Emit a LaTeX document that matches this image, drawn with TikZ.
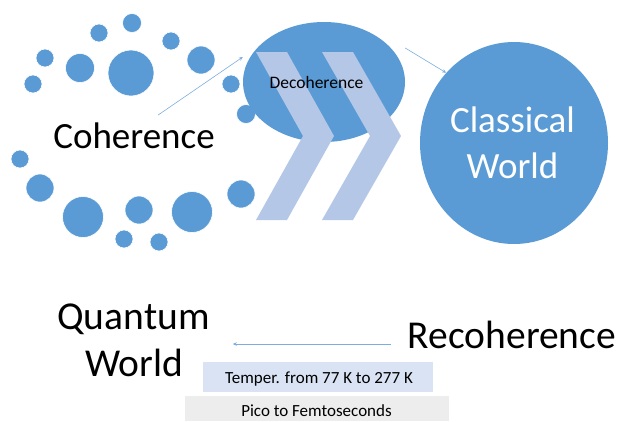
\documentclass[tikz,border=0pt]{standalone}
\usepackage{fontspec}
\setmainfont{Carlito}
\usetikzlibrary{shapes.geometric,arrows.meta}
\definecolor{mainblue}{HTML}{5B9BD5}
\definecolor{chev}{HTML}{B4C7E7}
\definecolor{tempbox}{HTML}{DAE3F3}
\definecolor{picobox}{HTML}{EDEDED}
\definecolor{arrowblue}{HTML}{7BAEDE}
\begin{document}
\begin{tikzpicture}[x=1pt,y=-1pt,
  dot/.style={circle, fill=mainblue, draw=white, line width=0.6pt, inner sep=0pt},
  bigtxt/.style={inner sep=0pt, anchor=base, font=\fontsize{37}{44}\selectfont},
  lowtxt/.style={inner sep=0pt, anchor=base, font=\fontsize{39.5}{46}\selectfont},
  smalltxt/.style={inner sep=0pt, anchor=base, font=\fontsize{17}{20}\selectfont},
  conn/.style={draw=arrowblue, line width=0.6pt, -{Stealth[length=4pt,width=3.5pt]}},
  chevron/.style={fill=chev, draw=none},
  band/.style={rectangle, inner sep=0pt, draw=none}]
\useasboundingbox (0,0) rectangle (621,421);
\foreach \cx/\cy/\r [count=\i] in {132/23/9.5, 99/33/9, 171/41/9, 45/58/9, 80/68/14.5, 131/73/23, 201/60/14, 33/84/9, 231/84/9, 246/114/9.5, 20/159/9, 40/188/14, 83/217/20.5, 139/210/14, 192/212/20.5, 241/194/14, 124/239/9, 159/242/9}
  \node[dot, minimum size=2*\r pt] (c\i) at (\cx,\cy) {};
\node[ellipse, fill=mainblue, inner sep=0pt, minimum width=162pt, minimum height=120pt] (deco) at (324,82) {};
\fill[chevron] (256,52) -- (287,52) -- (334,136) -- (287,220) -- (256,220) -- (303,136) -- cycle;
\fill[chevron] (322,52) -- (353,52) -- (401,136) -- (353,220) -- (322,220) -- (370,136) -- cycle;
\node[smalltxt, font=\fontsize{17.5}{20}\selectfont] (decotxt) at (316.5,88) {Decoherence};
\node[ellipse, fill=mainblue, inner sep=0pt, minimum width=188pt, minimum height=202pt] (cw) at (514,143) {};
\node[bigtxt, text=white] (cw1) at (512.5,132) {Classical};
\node[bigtxt, text=white] (cw2) at (512.5,178) {World};
\node[bigtxt] (coh) at (134,148) {Coherence};
\node[lowtxt] (qw1) at (133.5,329) {Quantum};
\node[lowtxt] (qw2) at (134,376) {World};
\node[lowtxt] (rec) at (512,348) {Recoherence};
\node[band, fill=tempbox, minimum width=230pt, minimum height=30pt] (temp) at (318,377) {};
\node[smalltxt] (temptxt) at (319,383) {Temper. from 77 K to 277 K};
\node[band, fill=picobox, minimum width=264pt, minimum height=25pt] (pico) at (317,408.5) {};
\node[smalltxt] (picotxt) at (316.5,416) {Pico to Femtoseconds};
\draw[conn] ([xshift=24pt,yshift=7pt]coh.north) -- ([yshift=25pt]deco.west);
\draw[conn] ([yshift=34pt]deco.east) -- (cw.134);
\draw[conn] ([xshift=-17pt,yshift=4pt]rec.base west) -- ([xshift=23pt,yshift=-15pt]qw1.base east);
\end{tikzpicture}
\end{document}
